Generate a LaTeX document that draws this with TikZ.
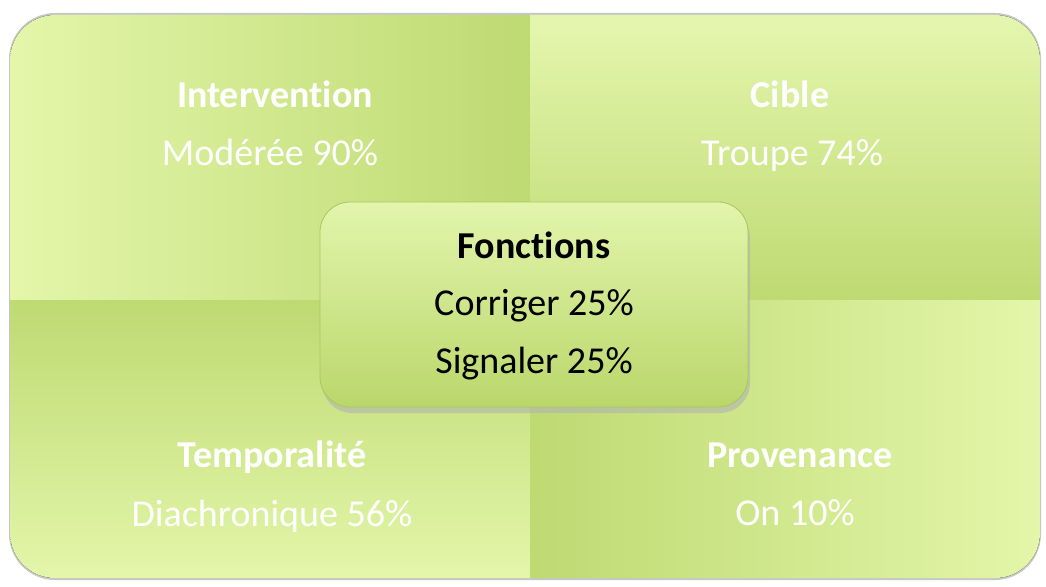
\documentclass[tikz,border=0pt]{standalone}
\usepackage{fontspec}
\setmainfont[Ligatures=NoCommon]{Carlito}
\definecolor{lightg}{HTML}{E3F6AA}
\definecolor{darkg}{HTML}{BEDA72}
\definecolor{boxtop}{HTML}{E2F5AC}
\definecolor{boxbot}{HTML}{BAD76B}
\definecolor{edgeg}{HTML}{A9C65F}
\tikzset{
  qtitle/.style={anchor=base, text=white, font=\fontsize{38}{44}\selectfont\bfseries, inner sep=0pt},
  qval/.style={anchor=base, text=white, font=\fontsize{38}{44}\selectfont, inner sep=0pt},
  ctitle/.style={anchor=base, text=black, font=\fontsize{38}{44}\selectfont\bfseries, inner sep=0pt},
  cval/.style={anchor=base, text=black, font=\fontsize{38}{44}\selectfont, inner sep=0pt},
}
\begin{document}
\begin{tikzpicture}[x=1pt,y=-1pt]
\useasboundingbox (0,0) rectangle (1046,586);
\fill[white] (0,0) rectangle (1046,586);
% outer shadow
\fill[black!22, rounded corners=46] (9,13) rectangle (1041,580);
% quadrants
\begin{scope}
\clip[rounded corners=45] (10,15) rectangle (1040,578);
\fill[left color=lightg, right color=darkg] (10,15) rectangle (530,300);
\fill[top color=lightg!95!white, bottom color=darkg] (530,15) rectangle (1040,300);
\fill[top color=darkg, bottom color=lightg] (10,300) rectangle (530,578);
\fill[left color=darkg, right color=lightg] (530,300) rectangle (1040,578);
\end{scope}
% texts
\node[qtitle] (t1) at (275,107) {Intervention};
\node[qval] (v1) at (270,165) {Modérée 90\%};
\node[qtitle] (t2) at (790,107) {Cible};
\node[qval] (v2) at (792,165) {Troupe 74\%};
\node[qtitle] (t3) at (272,467) {Temporalité};
\node[qval] (v3) at (272,526) {Diachronique 56\%};
\node[qtitle] (t4) at (800,467) {Provenance};
\node[qval] (v4) at (795,525) {On 10\%};
% center box
\fill[black!30, opacity=0.6, rounded corners=30] (322,209) rectangle (750,413);
\draw[edgeg, line width=0.8pt, top color=boxtop, bottom color=boxbot, rounded corners=30]
  (320,202) rectangle (748,407);
\node[ctitle] (c0) at (534,258) {Fonctions};
\node[cval] (c1) at (534,315) {Corriger 25\%};
\node[cval] (c2) at (534,373) {Signaler 25\%};
\end{tikzpicture}
\end{document}
